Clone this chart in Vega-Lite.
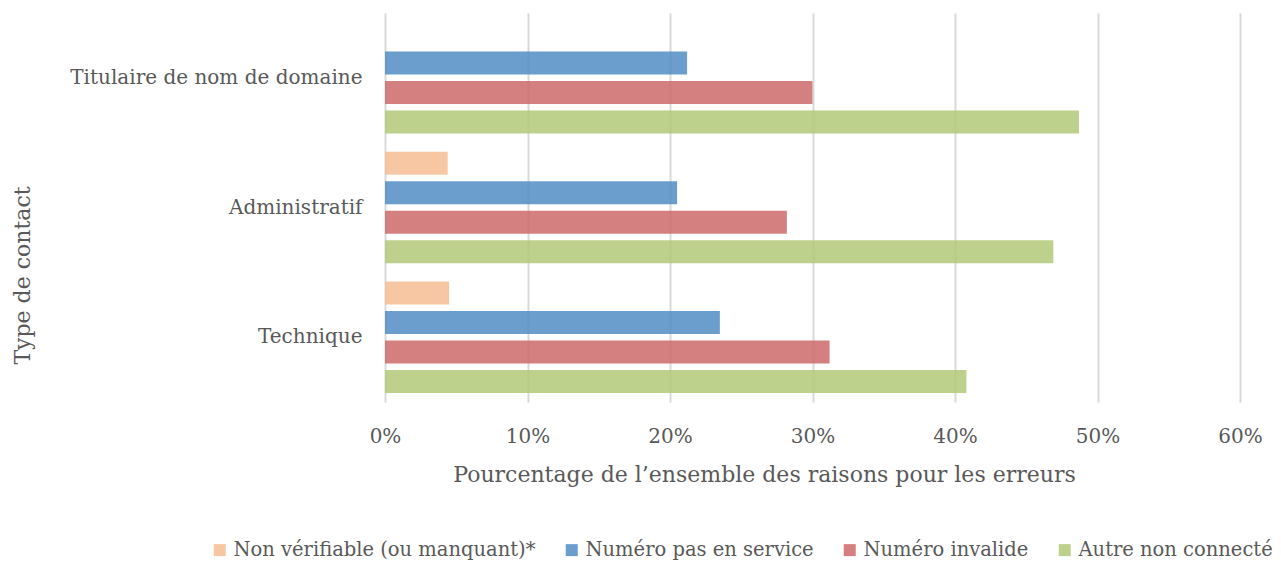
{
  "$schema": "https://vega.github.io/schema/vega-lite/v6.json",
  "width": 855,
  "height": 389,
  "autosize": {"type": "none"},
  "padding": {"left": 385, "top": 13, "right": 41, "bottom": 159},
  "config": {
    "view": {"stroke": null},
    "font": "DejaVu Serif",
    "axis": {"labelColor": "#595959", "titleColor": "#595959", "labelFontSize": 20, "titleFontSize": 22, "titleFontWeight": "normal"},
    "legend": {"labelColor": "#595959", "labelFontSize": 19.5}
  },
  "data": {
    "values": [
      {"type": "Titulaire de nom de domaine", "series": "Non vérifiable (ou manquant)*", "value": 0.0},
      {"type": "Titulaire de nom de domaine", "series": "Numéro pas en service", "value": 0.212},
      {"type": "Titulaire de nom de domaine", "series": "Numéro invalide", "value": 0.300},
      {"type": "Titulaire de nom de domaine", "series": "Autre non connecté", "value": 0.487},
      {"type": "Administratif", "series": "Non vérifiable (ou manquant)*", "value": 0.044},
      {"type": "Administratif", "series": "Numéro pas en service", "value": 0.205},
      {"type": "Administratif", "series": "Numéro invalide", "value": 0.282},
      {"type": "Administratif", "series": "Autre non connecté", "value": 0.469},
      {"type": "Technique", "series": "Non vérifiable (ou manquant)*", "value": 0.045},
      {"type": "Technique", "series": "Numéro pas en service", "value": 0.235},
      {"type": "Technique", "series": "Numéro invalide", "value": 0.312},
      {"type": "Technique", "series": "Autre non connecté", "value": 0.408}
    ]
  },
  "mark": {"type": "bar", "fillOpacity": 0.85},
  "encoding": {
    "y": {
      "field": "type",
      "type": "nominal",
      "sort": ["Titulaire de nom de domaine", "Administratif", "Technique"],
      "scale": {"paddingInner": 0.14, "paddingOuter": 0.07},
      "axis": {
        "title": "Type de contact",
        "domain": false,
        "ticks": false,
        "labelPadding": 23,
        "labelLimit": 400,
        "titleX": -363,
        "titleY": 262,
        "titleAngle": -90,
        "titleAlign": "center",
        "titleBaseline": "middle"
      }
    },
    "yOffset": {
      "field": "series",
      "sort": ["Non vérifiable (ou manquant)*", "Numéro pas en service", "Numéro invalide", "Autre non connecté"],
      "scale": {"paddingInner": 0.22, "paddingOuter": 0}
    },
    "x": {
      "field": "value",
      "type": "quantitative",
      "scale": {"domain": [0, 0.6]},
      "axis": {
        "title": "Pourcentage de l’ensemble des raisons pour les erreurs",
        "format": ".0%",
        "values": [0, 0.1, 0.2, 0.3, 0.4, 0.5, 0.6],
        "grid": true,
        "gridColor": "#d9d9d9",
        "gridWidth": 2,
        "domain": false,
        "ticks": false,
        "labelFlush": false,
        "labelPadding": 24,
        "titleX": 379,
        "titleY": 72,
        "titleAlign": "center",
        "titleBaseline": "middle"
      }
    },
    "color": {
      "field": "series",
      "type": "nominal",
      "sort": ["Non vérifiable (ou manquant)*", "Numéro pas en service", "Numéro invalide", "Autre non connecté"],
      "scale": {
        "domain": ["Non vérifiable (ou manquant)*", "Numéro pas en service", "Numéro invalide", "Autre non connecté"],
        "range": ["#F6BD94", "#528DC4", "#CC6A6A", "#B1C878"]
      },
      "legend": {
        "title": null,
        "orient": "none",
        "direction": "horizontal",
        "legendX": -175,
        "legendY": 527,
        "symbolType": "square",
        "symbolSize": 144,
        "symbolOpacity": 0.85,
        "symbolStrokeWidth": 0,
        "labelOffset": 4,
        "columnPadding": 26,
        "labelLimit": 500
      }
    }
  }
}
